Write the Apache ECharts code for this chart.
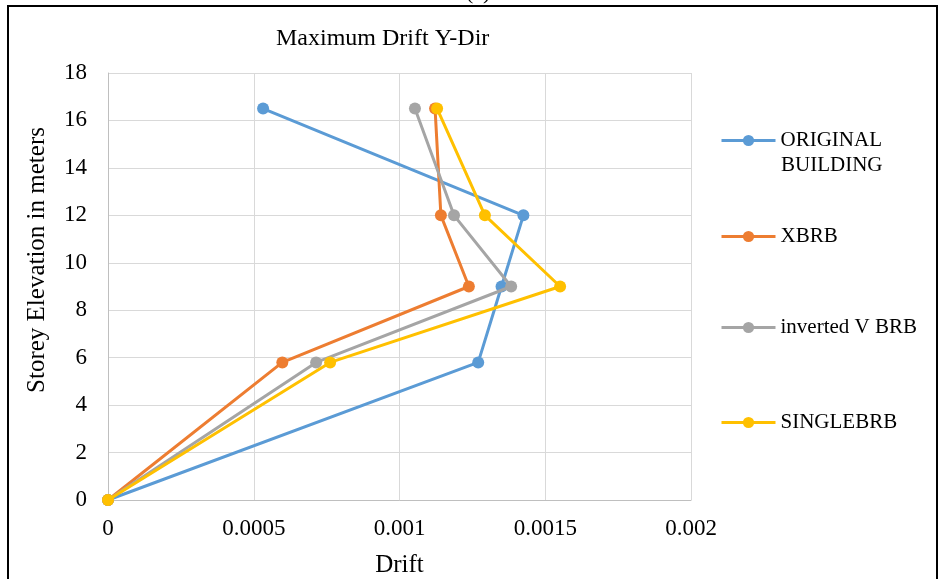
<!DOCTYPE html>
<html><head><meta charset="utf-8">
<script src="https://cdn.jsdelivr.net/npm/echarts@6/dist/echarts.min.js"></script>
<style>html,body{margin:0;padding:0;background:#fff}#c{width:939px;height:579px}</style>
</head><body><div id="c"></div>
<script>
const elevations = [0, 5.8, 9, 12, 16.5];
const seriesNames = ['ORIGINAL BUILDING', 'XBRB', 'inverted V BRB', 'SINGLEBRB'];
const originalDrift = [0, 0.00127, 0.00135, 0.001425, 0.000532];
const xbrbDrift = [0, 0.000598, 0.001238, 0.001142, 0.001122];
const invertedVDrift = [0, 0.000714, 0.001383, 0.001187, 0.001053];
const singleDrift = [0, 0.000762, 0.001551, 0.001293, 0.001129];
const xTicks = [0, 0.0005, 0.001, 0.0015, 0.002];
const yTicks = [0, 2, 4, 6, 8, 10, 12, 14, 16, 18];
const colors = ['#5b9bd5', '#ed7d31', '#a5a5a5', '#ffc000'];
const allDrift = [originalDrift, xbrbDrift, invertedVDrift, singleDrift];
const font = '"Liberation Serif", "Times New Roman", serif';

const chart = echarts.init(document.getElementById('c'));
const series = seriesNames.map((n, i) => ({
  name: n, type: 'line', data: allDrift[i].map((x, k) => [x, elevations[k]]),
  symbol: 'circle', symbolSize: 12, lineStyle: {width: 3, color: colors[i]},
  itemStyle: {color: colors[i]}, z: 2 + i
}));
const legendTops = [125, 221, 312, 407];
chart.setOption({
  animation: false,
  textStyle: {fontFamily: font},
  title: {text: 'Maximum Drift Y-Dir', left: 271, top: 22, textStyle: {fontFamily: font, fontSize: 24, fontWeight: 'normal', color: '#000'}},
  graphic: [
    {type: 'rect', shape: {x: 8, y: 6, width: 929, height: 590}, style: {fill: null, stroke: '#000', lineWidth: 2}, silent: true},
    {type: 'text', left: 466, top: -18, style: {text: '(c)', font: '22px "Liberation Serif"', fill: '#000'}},
    {type: 'text', left: 781, top: 155, style: {text: 'BUILDING', font: '21px "Liberation Serif"', fill: '#000'}},
    {type: 'text', x: 37, y: 260, rotation: Math.PI / 2,
     style: {text: 'Storey Elevation in meters', font: '25px "Liberation Serif"', fill: '#000', align: 'center', verticalAlign: 'middle'}}
  ],
  legend: seriesNames.map((n, i) => ({
    data: [n], orient: 'vertical', left: 715, top: legendTops[i], itemWidth: 54, itemHeight: 14, itemGap: 0,
    lineStyle: {width: 3},
    formatter: name => name === 'ORIGINAL BUILDING' ? 'ORIGINAL' : name,
    textStyle: {fontFamily: font, fontSize: 21, color: '#000'}
  })),
  grid: {left: 108, right: 248, top: 73, bottom: 79, containLabel: false, outerBoundsMode: 'none'},
  xAxis: {
    type: 'value', min: 0, max: 0.002, interval: 0.0005,
    name: 'Drift', nameLocation: 'middle', nameGap: 53,
    nameTextStyle: {fontFamily: font, fontSize: 25, color: '#000'},
    axisLine: {show: true, lineStyle: {color: '#bfbfbf', width: 1}},
    axisTick: {show: false},
    axisLabel: {fontFamily: font, fontSize: 23, color: '#000', margin: 17, formatter: v => String(v)},
    splitLine: {show: true, lineStyle: {color: '#d9d9d9', width: 1}}
  },
  yAxis: {
    type: 'value', min: 0, max: 18, interval: 2,
    axisLine: {show: true, lineStyle: {color: '#bfbfbf', width: 1}},
    axisTick: {show: false},
    axisLabel: {fontFamily: font, fontSize: 23, color: '#000', margin: 21},
    splitLine: {show: true, lineStyle: {color: '#d9d9d9', width: 1}}
  },
  series: series
});
</script></body></html>
